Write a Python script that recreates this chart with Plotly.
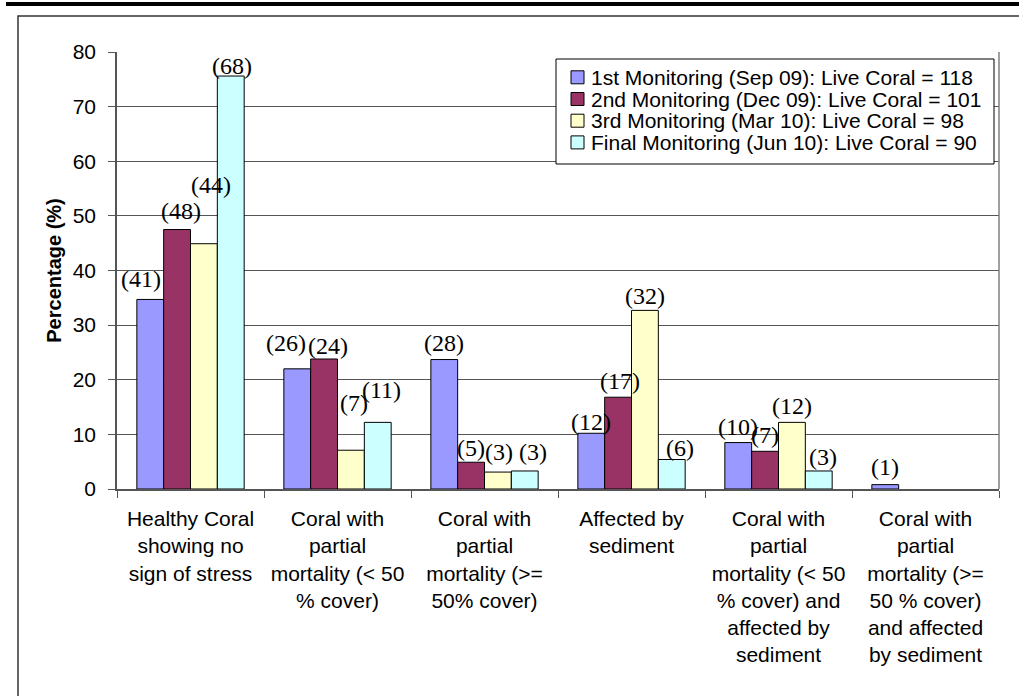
import plotly.graph_objects as go

categories = [
    "Healthy Coral<br>showing no<br>sign of stress",
    "Coral with<br>partial<br>mortality (&lt; 50<br>% cover)",
    "Coral with<br>partial<br>mortality (&gt;=<br>50% cover)",
    "Affected by<br>sediment",
    "Coral with<br>partial<br>mortality (&lt; 50<br>% cover) and<br>affected by<br>sediment",
    "Coral with<br>partial<br>mortality (&gt;=<br>50 % cover)<br>and affected<br>by sediment",
]

series_names = [
    "1st Monitoring (Sep 09): Live Coral = 118",
    "2nd Monitoring (Dec 09): Live Coral = 101",
    "3rd Monitoring (Mar 10): Live Coral = 98",
    "Final Monitoring (Jun 10): Live Coral = 90",
]

first_pct = [34.7, 22.0, 23.7, 10.2, 8.5, 0.8]
second_pct = [47.5, 23.8, 4.9, 16.8, 6.9, 0]
third_pct = [44.9, 7.1, 3.1, 32.7, 12.2, 0]
final_pct = [75.6, 12.2, 3.3, 5.4, 3.3, 0]

first_counts = ["(41)", "(26)", "(28)", "(12)", "(10)", "(1)"]
second_counts = ["(48)", "(24)", "(5)", "(17)", "(7)", ""]
third_counts = ["(44)", "(7)", "(3)", "(32)", "(12)", ""]
final_counts = ["(68)", "(11)", "(3)", "(6)", "(3)", ""]

y_ticks = [0, 10, 20, 30, 40, 50, 60, 70, 80]

colors = ["#9999FF", "#993366", "#FFFFCC", "#CCFFFF"]

# label nudges (pixels) as placed in the original chart
label_dx = [
    [-9, -11, 0, 0, 0, 0],
    [4, 4, 0, 2, 0, 0],
    [7, 3, 1, 0, 0, 0],
    [1, 4, 8, 8, 4, 0],
]
label_dy = [
    [20, 26, 17, 11, 16, 18],
    [19, 13, 14, 16, 16, 16],
    [59, 47, 20, 14, 16, 16],
    [10, 32, 19, 12, 14, 16],
]

L, R, T, B = 117, 20, 52, 207
W, H = 1019, 696
pw, ph = W - L - R, H - T - B
bargap = 0.27
n_series = 4
cat_w = pw / len(categories)
bar_w = cat_w * (1 - bargap) / n_series


def px(x):
    return (x - L) / pw


def py(y):
    return (H - B - y) / ph


all_vals = [first_pct, second_pct, third_pct, final_pct]
all_labels = [first_counts, second_counts, third_counts, final_counts]

fig = go.Figure()
annotations = []
for s, (name, vals, labels, col) in enumerate(zip(series_names, all_vals, all_labels, colors)):
    fig.add_trace(go.Bar(
        name=name, x=categories, y=vals,
        marker=dict(color=col, line=dict(color="black", width=[1 if v else 0 for v in vals])),
        showlegend=False,
    ))
    offset = (s - (n_series - 1) / 2) * bar_w
    for i, (cat, v, lab) in enumerate(zip(categories, vals, labels)):
        if not lab:
            continue
        annotations.append(dict(
            x=cat, y=v, xref="x", yref="y", text=lab, showarrow=False,
            xanchor="center", yanchor="middle",
            xshift=offset + label_dx[s][i], yshift=label_dy[s][i],
            font=dict(family="Liberation Serif", size=24, color="black"),
        ))

shapes = [
    # thick top rule
    dict(type="rect", xref="paper", yref="paper", x0=px(6), x1=px(1030),
         y0=py(6), y1=py(2), fillcolor="black", line=dict(width=0), layer="above"),
    # outer frame
    dict(type="rect", xref="paper", yref="paper", x0=px(18), x1=px(1100),
         y0=py(800), y1=py(16), line=dict(color="#333333", width=1.5)),
    # plot area right border
    dict(type="line", xref="paper", yref="paper", x0=1, x1=1, y0=0, y1=1,
         line=dict(color="#808080", width=1.5)),
    # legend box
    dict(type="rect", xref="paper", yref="paper", x0=px(556), x1=px(994),
         y0=py(164), y1=py(59), fillcolor="white",
         line=dict(color="black", width=1), layer="above"),
]

row0, row_step = 77.3, 21.7
for s, (name, col) in enumerate(zip(series_names, colors)):
    cy = row0 + s * row_step
    shapes.append(dict(
        type="rect", xref="paper", yref="paper",
        x0=px(571), x1=px(584), y0=py(cy + 6.5), y1=py(cy - 6.5),
        fillcolor=col, line=dict(color="black", width=1), layer="above",
    ))
    annotations.append(dict(
        x=px(589), y=py(cy), xref="paper", yref="paper", text=name,
        showarrow=False, xanchor="left", yanchor="middle",
        font=dict(family="Liberation Sans", size=21, color="black"),
    ))

fig.update_layout(
    width=W, height=H,
    margin=dict(l=L, r=R, t=T, b=B, autoexpand=False),
    paper_bgcolor="white", plot_bgcolor="white",
    barmode="group", bargap=bargap, bargroupgap=0,
    font=dict(family="Liberation Sans", color="black"),
    showlegend=False,
    shapes=shapes,
    annotations=annotations,
)
fig.update_xaxes(
    showline=True, linecolor="#555555", linewidth=1.5,
    ticks="outside", tickson="boundaries", ticklen=7, tickcolor="#555555",
    ticklabelstandoff=10,
    tickfont=dict(family="Liberation Sans", size=21, color="black"),
    showgrid=False,
)
fig.update_yaxes(
    range=[0, 80], tickvals=y_ticks,
    showline=True, linecolor="#555555", linewidth=1.5,
    ticks="outside", ticklen=7, tickcolor="#555555",
    ticklabelstandoff=8,
    tickfont=dict(family="Liberation Sans", size=21, color="black"),
    showgrid=True, gridcolor="#555555", gridwidth=1, zeroline=False,
    title=dict(text="<b>Percentage (%)</b>", standoff=6,
               font=dict(family="Liberation Sans", size=20, color="black")),
)

fig.write_html("out.html")
